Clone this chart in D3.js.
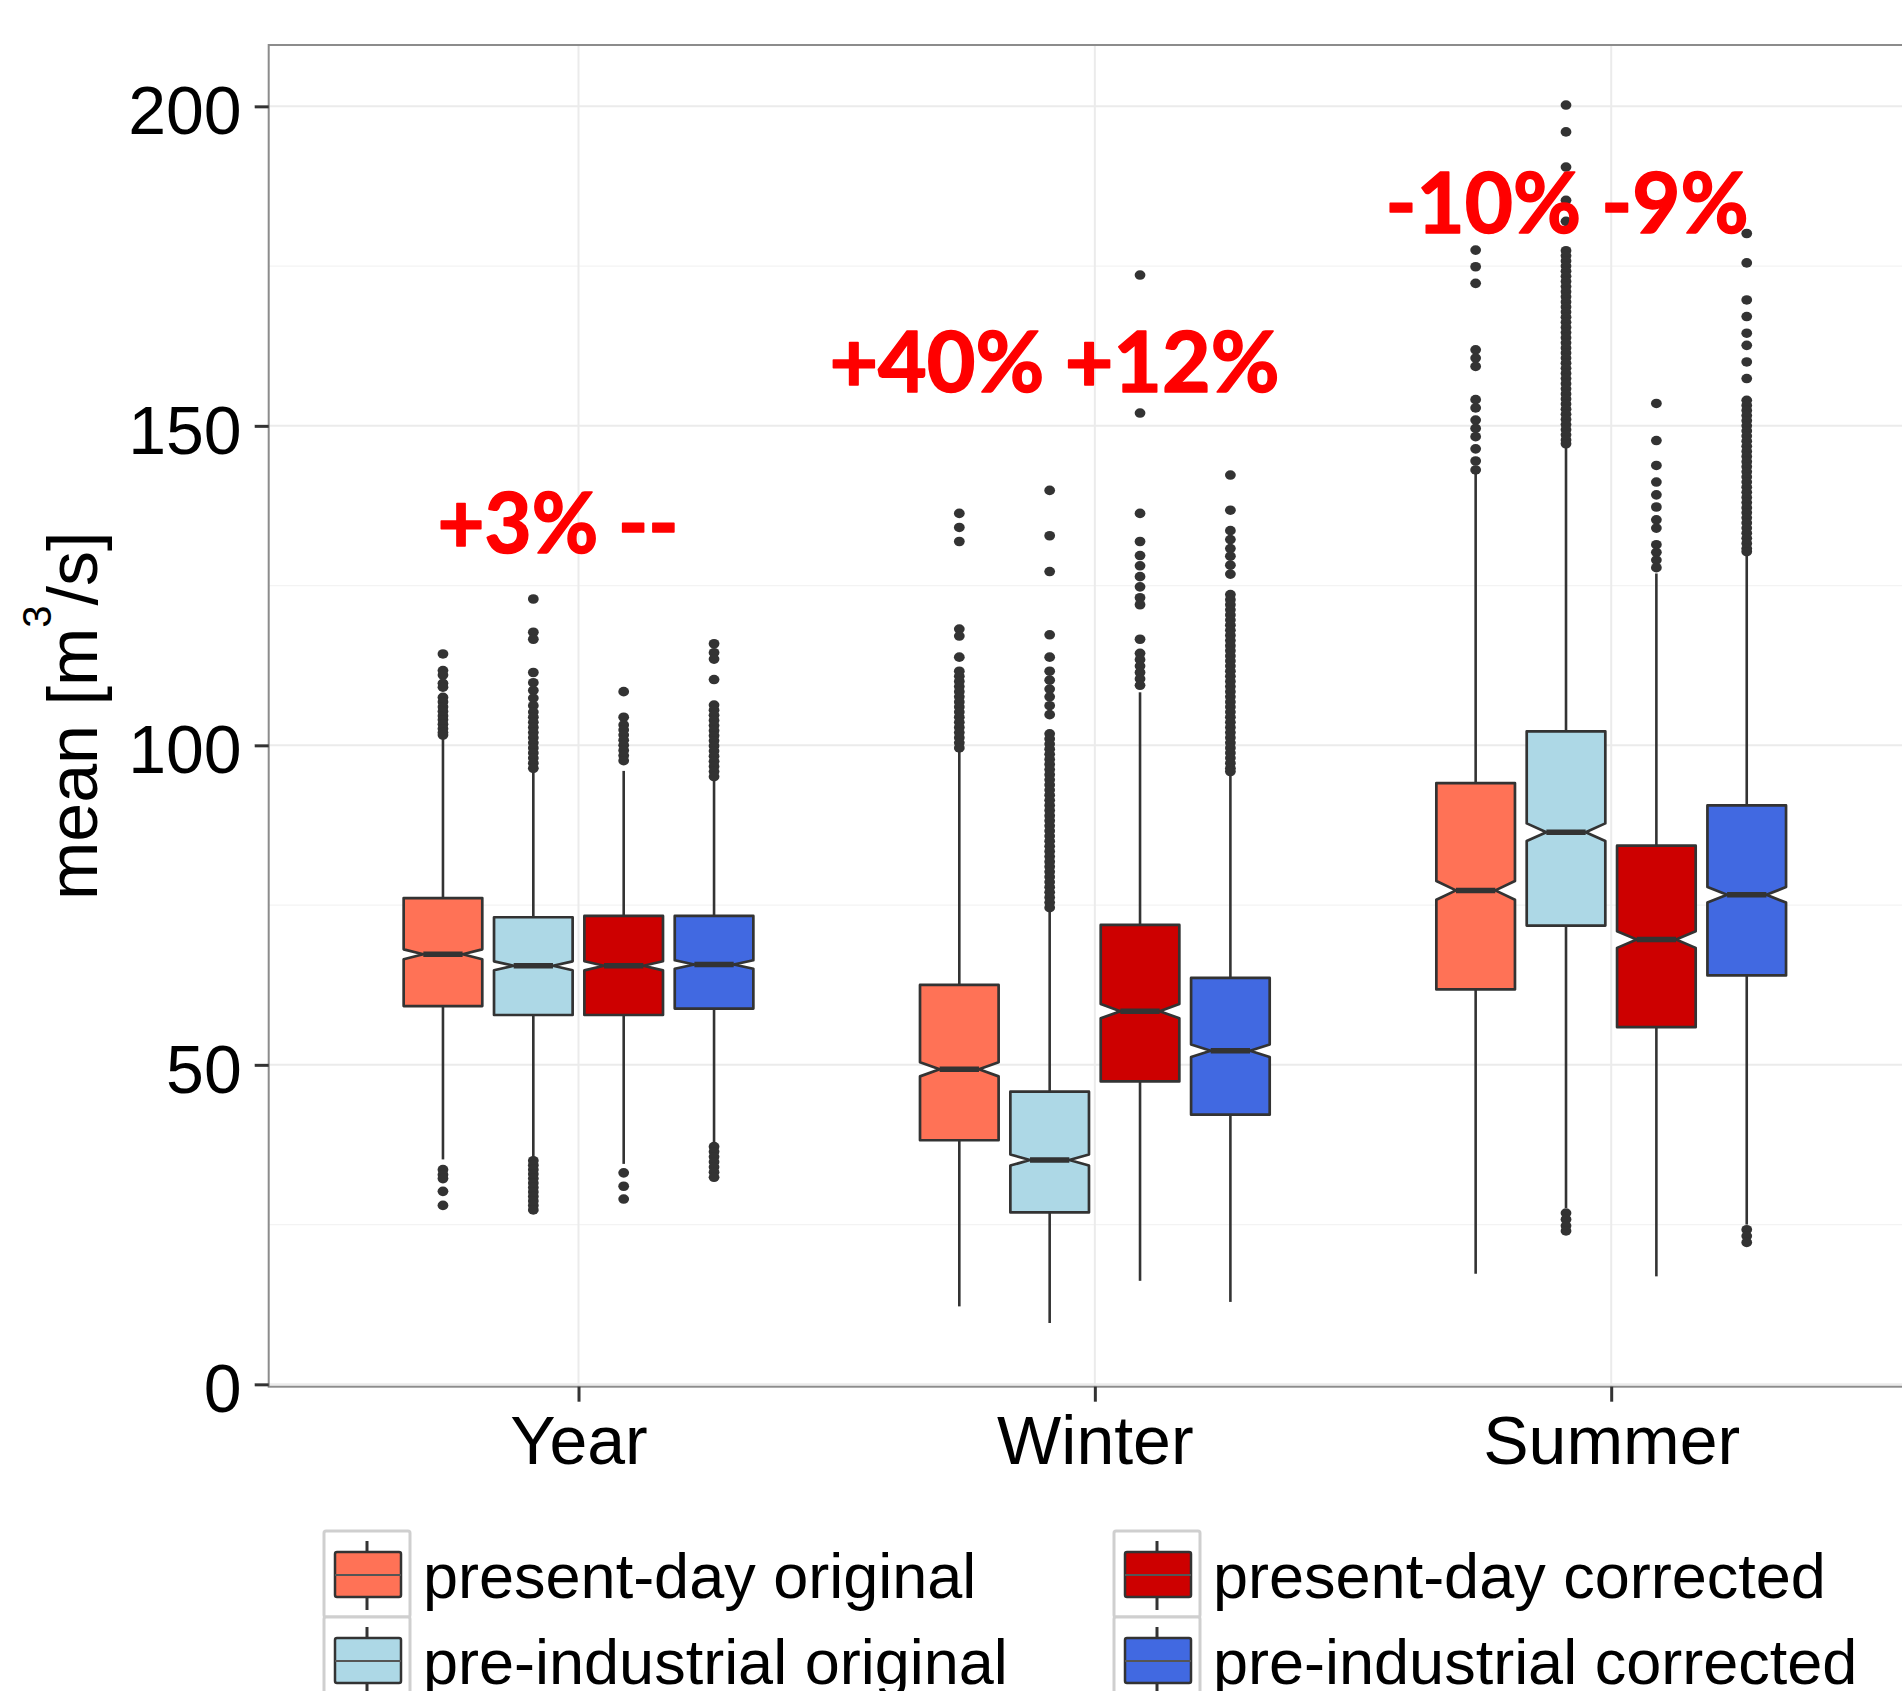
<!DOCTYPE html>
<html>
<head>
<meta charset="utf-8">
<script src="https://cdn.jsdelivr.net/npm/d3@7"></script>
<style>
    body { margin: 0; background: #fff; }
    text { font-family: "Liberation Sans", Arial, sans-serif; }
</style>
</head>
<body>
<script>
// categories and series
const categories = ['Year', 'Winter', 'Summer']
const series = ['present-day original', 'pre-industrial original', 'present-day corrected', 'pre-industrial corrected']
const colors = ['#FF7256', '#ADD8E6', '#CD0000', '#4169E1']

const yTicks = [0, 50, 100, 150, 200]
const yMinorTicks = [25, 75, 125, 175]

// box statistics, one row per category, one column per series
const whiskerLow = [[35.2, 35.5, 34.5, 37.6], [12.2, 9.6, 16.2, 12.9], [17.3, 27.6, 16.9, 25.0]]
const lowerHinge = [[59.2, 57.8, 57.8, 58.8], [38.2, 26.9, 47.4, 42.2], [61.8, 71.8, 55.9, 64.0]]
const medians = [[67.3, 65.5, 65.5, 65.7], [49.3, 35.1, 58.4, 52.2], [77.3, 86.4, 69.6, 76.6]]
const upperHinge = [[76.1, 73.1, 73.3, 73.3], [62.5, 45.8, 71.9, 63.6], [94.1, 102.2, 84.3, 90.6]]
const whiskerHigh = [[101.3, 95.7, 96.0, 94.6], [99.0, 74.3, 108.3, 95.7], [142.5, 147.0, 126.9, 130.1]]

const sampleSize = 1200 // approx. values per box, only used for the notch

// outliers
const outliersYear = [
    [114.3, 111.7, 111.0, 109.7, 109.1, 107.5, 106.8, 106.0, 105.3, 104.6, 104.0, 103.3, 102.6, 102.0, 101.6,
        33.6, 32.8, 32.2, 30.2, 28.0],
    [122.9, 117.7, 116.6, 111.4, 109.8, 108.6, 107.4, 106.2, 105.2, 104.4, 103.6, 102.8, 102.0, 101.2, 100.4, 99.6,
        98.8, 98.0, 97.2, 96.4,
        35.0, 34.3, 33.6, 32.9, 32.2, 31.5, 30.8, 30.1, 29.4, 28.7, 28.0, 27.3],
    [108.4, 104.4, 103.2, 102.4, 101.6, 100.8, 100.0, 99.2, 98.4, 97.6,
        33.1, 31.0, 29.0],
    [115.9, 114.5, 113.5, 110.3, 106.3, 105.5, 104.7, 103.9, 103.1, 102.3, 101.5, 100.7, 99.9, 99.1, 98.3, 97.5,
        96.7, 95.9, 95.1,
        37.2, 36.4, 35.6, 34.8, 34.0, 33.2, 32.4]
]
const outliersWinter = [
    [136.3, 134.1, 131.9, 118.2, 117.1, 113.8, 111.6, 110.8, 110.0, 109.2, 108.4, 107.6, 106.8, 106.0, 105.2, 104.4,
        103.6, 102.8, 102.0, 101.2, 100.4, 99.6],
    [139.9, 132.8, 127.2, 117.3, 113.8, 111.6, 110.2, 108.8, 107.6, 106.2, 104.8, 101.8, 101.0, 100.2, 99.4, 98.6,
        97.8, 97.0, 96.2, 95.4, 94.6, 93.8, 93.0, 92.2, 91.4, 90.6, 89.8, 89.0, 88.2, 87.4, 86.6, 85.8, 85.0, 84.2,
        83.4, 82.6, 81.8, 81.0, 80.2, 79.4, 78.6, 77.8, 77.0, 76.2, 75.4, 74.6],
    [173.6, 152.0, 136.3, 131.9, 129.7, 128.1, 126.4, 124.8, 123.1, 122.0, 116.6, 114.4, 113.4, 112.4, 111.4, 110.4,
        109.4],
    [142.3, 136.8, 133.6, 132.2, 130.8, 129.6, 128.2, 126.8, 123.6, 122.8, 122.0, 121.2, 120.4, 119.6, 118.8, 118.0,
        117.2, 116.4, 115.6, 114.8, 114.0, 113.2, 112.4, 111.6, 110.8, 110.0, 109.2, 108.4, 107.6, 106.8, 106.0, 105.2,
        104.4, 103.6, 102.8, 102.0, 101.2, 100.4, 99.6, 98.8, 98.0, 97.2, 96.4, 95.9]
]
const outliersSummer = [
    [177.5, 174.9, 172.3, 161.9, 160.6, 159.3, 154.1, 152.8, 150.9, 149.6, 148.3, 146.4, 144.5, 143.1],
    [200.2, 196.0, 190.5, 185.3, 182.0, 177.4, 176.6, 175.8, 175.0, 174.2, 173.4, 172.6, 171.8, 171.0, 170.2, 169.4,
        168.6, 167.8, 167.0, 166.2, 165.4, 164.6, 163.8, 163.0, 162.2, 161.4, 160.6, 159.8, 159.0, 158.2, 157.4, 156.6,
        155.8, 155.0, 154.2, 153.4, 152.6, 151.8, 151.0, 150.2, 149.4, 148.6, 147.8, 147.2,
        26.8, 25.8, 24.8, 24.0],
    [153.5, 147.7, 143.8, 141.2, 139.2, 137.3, 135.3, 134.0, 131.4, 130.2, 129.0, 127.8],
    [180.1, 175.5, 169.7, 167.1, 164.5, 162.6, 160.0, 157.4, 154.0, 153.2, 152.4, 151.6, 150.8, 150.0, 149.2, 148.4,
        147.6, 146.8, 146.0, 145.2, 144.4, 143.6, 142.8, 142.0, 141.2, 140.4, 139.6, 138.8, 138.0, 137.2, 136.4, 135.6,
        134.8, 134.0, 133.2, 132.4, 131.6, 130.8, 130.3,
        24.2, 23.2, 22.2]
]
const outliers = [outliersYear, outliersWinter, outliersSummer]

// red change labels above each group
const annotations = ['+3% --', '+40% +12%', '-10% -9%']
const annotationValue = [130.1, 155.3, 180.2]

// layout
const width = 1902, height = 1691
const panel = {left: 268.7, top: 45, right: 1921, bottom: 1386.7}
const annLayout = [{dx: -0.273, w: 241}, {dx: -0.514, w: 450}, {dx: -0.437, w: 363}]
const ink = '#333333'

const svg = d3.select('body').append('svg').attr('width', width).attr('height', height)

const x = d3.scalePoint(categories, [panel.left, panel.right]).padding(0.6)
const y = d3.scaleLinear([-0.37, 209.6], [panel.bottom, panel.top])
const dodge = d3.scaleBand(series, [-0.35 * x.step(), 0.35 * x.step()]).paddingInner(0.13).paddingOuter(0.065)
const bw = dodge.bandwidth()

// grid
const grid = svg.append('g')
grid.selectAll('line.minor').data(yMinorTicks).enter().append('line')
    .attr('x1', panel.left).attr('x2', panel.right)
    .attr('y1', d => y(d)).attr('y2', d => y(d))
    .attr('stroke', '#F3F3F3').attr('stroke-width', 1.3)
grid.selectAll('line.major').data(yTicks).enter().append('line')
    .attr('x1', panel.left).attr('x2', panel.right)
    .attr('y1', d => y(d)).attr('y2', d => y(d))
    .attr('stroke', '#EBEBEB').attr('stroke-width', 2)
grid.selectAll('line.vert').data(categories).enter().append('line')
    .attr('x1', d => x(d)).attr('x2', d => x(d))
    .attr('y1', panel.top).attr('y2', panel.bottom)
    .attr('stroke', '#EBEBEB').attr('stroke-width', 2)

// boxes
const boxes = []
categories.forEach((c, i) => series.forEach((s, j) => {
    boxes.push({
        cx: x(c) + dodge(s) + bw / 2, color: colors[j],
        lo: whiskerLow[i][j], q1: lowerHinge[i][j], med: medians[i][j],
        q3: upperHinge[i][j], hi: whiskerHigh[i][j], out: outliers[i][j]
    })
}))

const g = svg.append('g')
boxes.forEach(b => {
    const box = g.append('g')
    // whiskers
    box.append('line').attr('x1', b.cx).attr('x2', b.cx).attr('y1', y(b.hi)).attr('y2', y(b.q3))
        .attr('stroke', ink).attr('stroke-width', 2.6)
    box.append('line').attr('x1', b.cx).attr('x2', b.cx).attr('y1', y(b.q1)).attr('y2', y(b.lo))
        .attr('stroke', ink).attr('stroke-width', 2.6)

    // notched box
    const notch = 1.58 * (b.q3 - b.q1) / Math.sqrt(sampleSize)
    const x0 = b.cx - bw / 2, x1 = b.cx + bw / 2
    const xl = b.cx - bw / 4, xr = b.cx + bw / 4
    const pts = [
        [x0, y(b.q3)], [x1, y(b.q3)], [x1, y(b.med + notch)], [xr, y(b.med)], [x1, y(b.med - notch)],
        [x1, y(b.q1)], [x0, y(b.q1)], [x0, y(b.med - notch)], [xl, y(b.med)], [x0, y(b.med + notch)]
    ]
    box.append('path').attr('d', d3.line()(pts) + 'Z')
        .attr('fill', b.color).attr('stroke', ink).attr('stroke-width', 2.7).attr('stroke-linejoin', 'round')
    box.append('line').attr('x1', xl).attr('x2', xr).attr('y1', y(b.med)).attr('y2', y(b.med))
        .attr('stroke', ink).attr('stroke-width', 5.5)

    // outliers
    box.selectAll('ellipse').data(b.out).enter().append('ellipse')
        .attr('cx', b.cx).attr('cy', d => y(d)).attr('rx', 5.4).attr('ry', 4.8).attr('fill', ink)
})

// panel border
svg.append('rect')
    .attr('x', panel.left).attr('y', panel.top)
    .attr('width', panel.right - panel.left).attr('height', panel.bottom - panel.top)
    .attr('fill', 'none').attr('stroke', '#8C8C8C').attr('stroke-width', 2)

// axes
const yAxis = svg.append('g').attr('transform', `translate(${panel.left},0)`)
    .call(d3.axisLeft(y).tickValues(yTicks).tickSize(14).tickPadding(13))
yAxis.select('.domain').remove()
yAxis.selectAll('line').attr('stroke', ink).attr('stroke-width', 3)
yAxis.selectAll('text').attr('font-size', 68).attr('fill', '#000').attr('dy', '0.4em')
    .style('font-family', '"Liberation Sans", Arial, sans-serif')

const xAxis = svg.append('g').attr('transform', `translate(0,${panel.bottom})`)
    .call(d3.axisBottom(x).tickSize(15).tickPadding(14))
xAxis.select('.domain').remove()
xAxis.selectAll('line').attr('stroke', ink).attr('stroke-width', 3)
xAxis.selectAll('text').attr('font-size', 68).attr('fill', '#000')
    .style('font-family', '"Liberation Sans", Arial, sans-serif')

// y title with superscript
const title = svg.append('text')
    .attr('transform', `translate(96.7,${(panel.top + panel.bottom) / 2})rotate(-90)`)
    .attr('text-anchor', 'middle').attr('font-size', 70).attr('fill', '#000')
title.append('tspan').text('mean [m')
title.append('tspan').text('3').attr('font-size', 40).attr('dy', -46)
title.append('tspan').text('/s]').attr('dy', 46)

// annotations
svg.selectAll('text.ann').data(annotations).enter().append('text')
    .attr('class', 'ann')
    .attr('x', (d, i) => x(categories[i]) + annLayout[i].dx * x.step())
    .attr('y', (d, i) => y(annotationValue[i]))
    .attr('textLength', (d, i) => annLayout[i].w).attr('lengthAdjust', 'spacingAndGlyphs')
    .style('font-family', 'Lato, "Open Sans", sans-serif').attr('font-weight', 'bold')
    .attr('font-size', 85).attr('fill', '#FF0000')
    .attr('stroke', '#FF0000').attr('stroke-width', 1.6).attr('stroke-linejoin', 'round')
    .text(d => d)

// legend, filled by column in two rows
const keySize = 86
const legendX = [324, 1114], legendY = 1531
const legend = svg.append('g')
series.forEach((s, j) => {
    const col = Math.floor(j / 2), row = j % 2
    const kx = legendX[col], ky = legendY + row * keySize
    const key = legend.append('g').attr('transform', `translate(${kx},${ky})`)
    key.append('rect').attr('width', keySize).attr('height', keySize).attr('rx', 2)
        .attr('fill', '#fff').attr('stroke', '#CFCFCF').attr('stroke-width', 3)
    key.append('line').attr('x1', keySize / 2).attr('x2', keySize / 2).attr('y1', 10).attr('y2', keySize - 7)
        .attr('stroke', ink).attr('stroke-width', 3)
    key.append('rect').attr('x', 11).attr('y', 21).attr('width', 66).attr('height', 45).attr('rx', 2)
        .attr('fill', colors[j]).attr('stroke', ink).attr('stroke-width', 2.5)
    key.append('line').attr('x1', 11).attr('x2', 77).attr('y1', 44).attr('y2', 44)
        .attr('stroke', '#555').attr('stroke-width', 2)
    legend.append('text').attr('x', kx + 99).attr('y', ky + 67)
        .attr('font-size', 63).attr('fill', '#000').text(s)
})
</script>
</body>
</html>
